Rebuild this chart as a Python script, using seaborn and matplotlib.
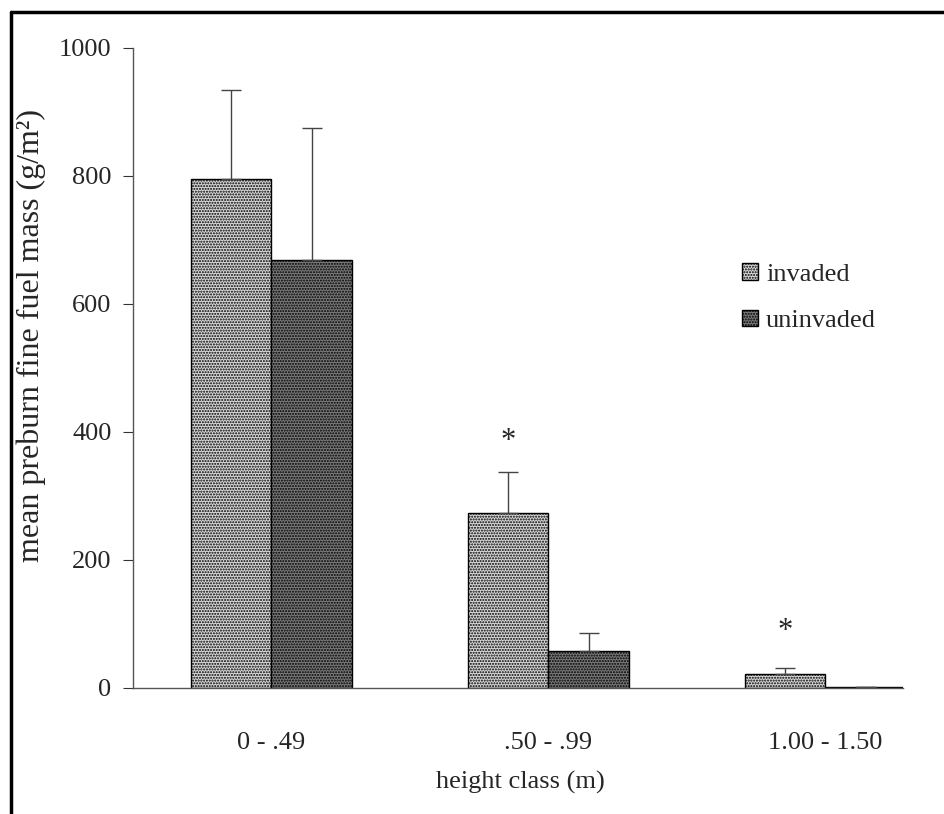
import numpy as np
import pandas as pd
import matplotlib
matplotlib.use("Agg")
import matplotlib.pyplot as plt
from matplotlib.lines import Line2D
import seaborn as sns

# ---- data ----
categories = ["0 - .49", ".50 - .99", "1.00 - 1.50"]
groups = ["invaded", "uninvaded"]
invaded = [795, 273, 22]
uninvaded = [669, 58, 1]
invaded_err = [139, 65, 9]
uninvaded_err = [206, 28, 1]
yticks = [0, 200, 400, 600, 800, 1000]
star_y = [None, 385, 88]   # significance markers (over invaded bars)

df = pd.DataFrame({
    "height": categories * 2,
    "mass": invaded + uninvaded,
    "group": [groups[0]] * 3 + [groups[1]] * 3,
})
errs = {groups[0]: invaded_err, groups[1]: uninvaded_err}

sns.set_theme(style="white")
plt.rcParams["font.family"] = ["Liberation Serif", "DejaVu Serif"]

fig = plt.figure(figsize=(9.44, 8.14), dpi=100)
ax = fig.add_axes([133 / 944, 1 - 688 / 814, (903 - 133) / 944, (688 - 48) / 814])

sns.barplot(data=df, x="height", y="mass", hue="group", order=categories,
            hue_order=groups, palette=["#d8d8d8", "#7a7a7a"], width=0.58,
            edgecolor="black", linewidth=1.0, errorbar=None, ax=ax)

bar_containers = list(ax.containers)
hatches = ["......", "......"]
for cont, h, g in zip(bar_containers, hatches, groups):
    for p, e in zip(cont.patches, errs[g]):
        p.set_hatch(h)
        x = p.get_x() + p.get_width() / 2
        y = p.get_height()
        ax.errorbar([x], [y], yerr=[[0], [e]], fmt="none", ecolor="#444444",
                    elinewidth=1.0, capsize=7, capthick=1.0, zorder=1)

for p, s in zip(bar_containers[0].patches, star_y):
    if s is not None:
        ax.text(p.get_x() + p.get_width() / 2, s, "*", ha="center", va="center",
                fontsize=22)

ax.set_xlim(-0.5, 2.28)
ax.set_ylim(0, 1000)
ax.set_yticks(yticks)
ax.set_yticklabels([str(t) for t in yticks])
ax.tick_params(axis="y", direction="out", length=7.5, width=0.8, color="#333333",
               labelsize=19, pad=8, left=True)
ax.tick_params(axis="x", length=0, labelsize=19, pad=32)
for sp in ["top", "right"]:
    ax.spines[sp].set_visible(False)
for sp in ["left", "bottom"]:
    ax.spines[sp].set_color("#555555")
    ax.spines[sp].set_linewidth(1.0)

ax.set_xlabel("height class (m)", fontsize=19)
ax.xaxis.set_label_coords((520 - 133) / (903 - 133), -0.13)
ax.set_ylabel("mean preburn fine fuel mass (g/m²)", fontsize=23)
ax.yaxis.set_label_coords(-(133 - 46) / 770, 0.55)

handles = [cont.patches[0] for cont in bar_containers]
leg = ax.legend(handles=handles, labels=groups, loc="upper left",
                bbox_to_anchor=(729 / 944, 1 - 250 / 814), bbox_transform=fig.transFigure,
                frameon=False, fontsize=19, handlelength=0.6, handleheight=0.6,
                handletextpad=0.3, labelspacing=0.9, borderpad=0)

# scan frame (top and left edges)
fig.add_artist(Line2D([11 / 944, 1], [1 - 12 / 814, 1 - 12 / 814], color="black",
                      lw=2.5, transform=fig.transFigure))
fig.add_artist(Line2D([11 / 944, 11 / 944], [0, 1 - 12 / 814], color="black",
                      lw=2.5, transform=fig.transFigure))

fig.savefig("out.png", dpi=100)
